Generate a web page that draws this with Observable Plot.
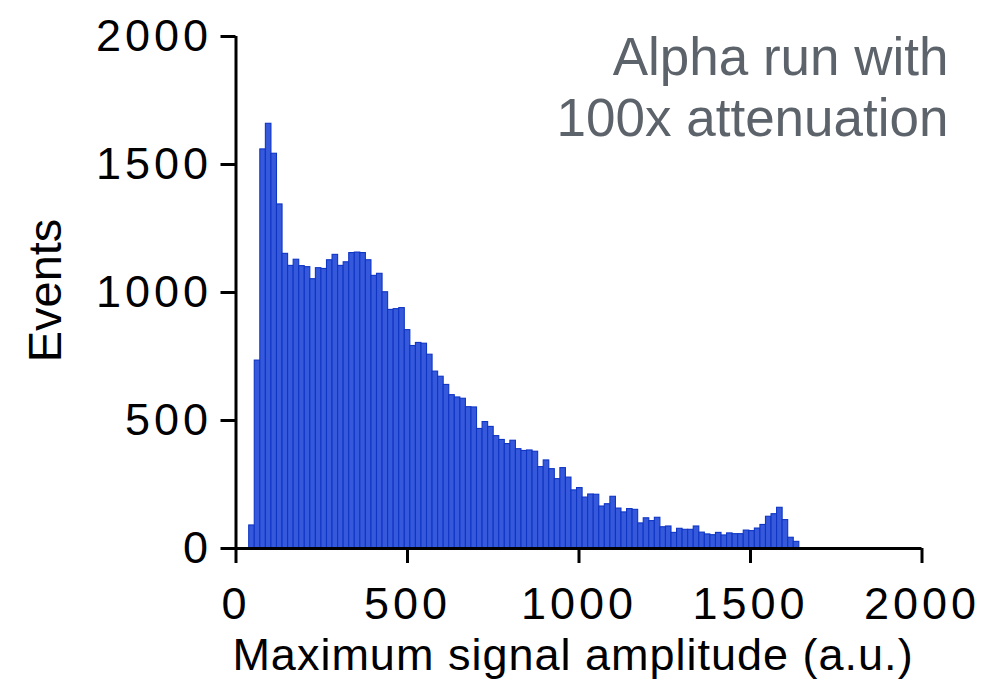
<!DOCTYPE html>
<html>
<head>
<meta charset="utf-8">
<script src="https://cdn.jsdelivr.net/npm/d3@7"></script>
<script src="https://cdn.jsdelivr.net/npm/@observablehq/plot@0.6"></script>
<style>
  html, body { margin: 0; padding: 0; background: #fff; }
  #chart { width: 1005px; height: 683px; }
</style>
</head>
<body>
<div id="chart"></div>
<script>
// Histogram bins
const binStart = 38.5;
const binWidth = 16.2;
const counts = [
  90, 734, 1559, 1659, 1542, 1344, 1151, 1104, 1128, 1103,
  1099, 1052, 1095, 1092, 1126, 1147, 1104, 1118, 1154, 1156,
  1154, 1126, 1065, 1073, 1001, 932, 935, 939, 853, 791,
  803, 800, 757, 691, 671, 639, 599, 590, 585, 552,
  551, 467, 494, 475, 439, 424, 408, 421, 388, 381,
  383, 378, 318, 344, 310, 271, 314, 277, 227, 236,
  199, 211, 210, 164, 173, 202, 156, 141, 154, 151,
  98, 118, 107, 120, 83, 86, 61, 77, 73, 73,
  86, 62, 55, 52, 61, 51, 59, 56, 56, 70,
  68, 78, 92, 124, 134, 159, 111, 42, 26
];
const xTicks = [0, 500, 1000, 1500, 2000];
const yTicks = [0, 500, 1000, 1500, 2000];
const xLabel = "Maximum signal amplitude (a.u.)";
const yLabel = "Events";
const annotation = "Alpha run with\n100x attenuation";

const bins = counts.map((c, i) => ({
  x1: binStart + i * binWidth,
  x2: binStart + (i + 1) * binWidth,
  count: c
}));

const fontAxis = "'Liberation Sans', Arial, sans-serif";

const plot = Plot.plot({
  width: 1005,
  height: 683,
  marginLeft: 235.5,
  marginRight: 83.5,
  marginTop: 36,
  marginBottom: 135,
  style: { fontFamily: fontAxis, background: "#fff", overflow: "visible" },
  x: { domain: [0, 2000] },
  y: { domain: [0, 2000] },
  marks: [
    Plot.rectY(bins, {
      x1: "x1", x2: "x2", y: "count",
      fill: "#3659dc", stroke: "#0f35c4", strokeWidth: 1.1, inset: 0
    }),
    Plot.ruleX([0], { stroke: "#000", strokeWidth: 3 }),
    Plot.ruleY([0], { stroke: "#000", strokeWidth: 3 }),
    Plot.axisX({
      ticks: xTicks, tickSize: 15, tickPadding: 24, strokeWidth: 3,
      fontSize: 45, fill: "#000", stroke: "#000",
      tickFormat: d => String(d),
      label: null
    }),
    Plot.axisY({
      ticks: yTicks, tickSize: 15, tickPadding: 9, strokeWidth: 3,
      fontSize: 45, fill: "#000", stroke: "#000",
      tickFormat: d => String(d),
      label: null
    }),
    Plot.text([xLabel], {
      frameAnchor: "bottom", text: d => d,
      textAnchor: "middle", lineAnchor: "middle",
      dy: 107, dx: -6,
      fontSize: 45, fill: "#000"
    }),
    Plot.text([yLabel], {
      frameAnchor: "left", text: d => d,
      textAnchor: "middle", lineAnchor: "middle",
      dx: -190.5, dy: -2, rotate: -90,
      fontSize: 47, fill: "#000"
    }),
    Plot.text([annotation], {
      frameAnchor: "top-right", text: d => d,
      dx: 26.5, dy: -4, textAnchor: "end", lineAnchor: "top",
      lineHeight: 1.14,
      fontSize: 53, fontWeight: 300,
      fontFamily: "'Liberation Sans', Roboto, sans-serif",
      fill: "#5d636a"
    })
  ]
});

// widen the glyph spacing to match the reference
d3.select(plot).selectAll('[aria-label="x-axis tick label"] text, [aria-label="y-axis tick label"] text')
  .style("letter-spacing", "4px");
d3.select(plot).selectAll('[aria-label="text"] text')
  .filter(function () { return this.textContent === xLabel; })
  .style("letter-spacing", "1px");

document.getElementById("chart").appendChild(plot);
</script>
</body>
</html>
